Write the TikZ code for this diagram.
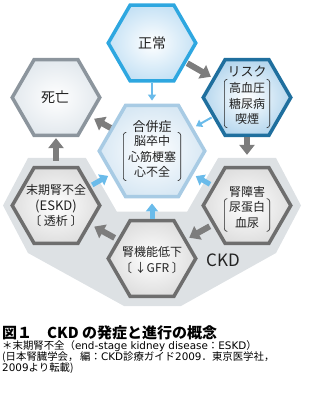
\documentclass[tikz,border=0pt]{standalone}
\usepackage{fontspec}
\setmainfont{Noto Sans CJK JP}
\newfontfamily\latinfont{DejaVu Sans}
\usetikzlibrary{shapes.geometric,arrows.meta}

\definecolor{hexblue}{HTML}{2EA7E0}
\definecolor{normalfill}{HTML}{C6E2F5}
\definecolor{riskblue}{HTML}{1F6F9E}
\definecolor{riskfill}{HTML}{B6D7EE}
\definecolor{compblue}{HTML}{A8CBE4}
\definecolor{compfill}{HTML}{D8E8F4}
\definecolor{deathgray}{HTML}{8C959D}
\definecolor{deathfill}{HTML}{E3E9EE}
\definecolor{ckdgray}{HTML}{6E6E6E}
\definecolor{ckdfill}{HTML}{DFDFDF}
\definecolor{bggray}{HTML}{DDE1E4}
\definecolor{arrgray}{HTML}{7D7D7D}
\definecolor{arrblue}{HTML}{6ABBEA}
\definecolor{txtdark}{HTML}{222222}

\begin{document}
\begin{tikzpicture}[
    x=1pt, y=-1pt,
    hexbase/.style={
        regular polygon,
        regular polygon sides=6,
        inner sep=0pt,
        line width=3.5pt,
        minimum size=87.5pt
    },
    hexnormal/.style={hexbase, draw=hexblue, inner color=white, outer color=normalfill},
    hexrisk/.style={hexbase, draw=riskblue, inner color=white, outer color=riskfill},
    hexcomp/.style={hexbase, draw=compblue, inner color=white, outer color=compfill, minimum size=105.5pt},
    hexdeath/.style={hexbase, draw=deathgray, inner color=white, outer color=deathfill},
    hexckd/.style={hexbase, draw=ckdgray, inner color=white, outer color=ckdfill},
    hextxt/.style={align=center, text=txtdark, inner sep=0pt, font=\fontsize{12}{15.5}\selectfont},
    hexhead/.style={hextxt, font=\fontsize{13}{15}\selectfont},
    hexlist/.style={hextxt, inner xsep=4.5pt, inner ysep=3pt},
    brk/.style={draw=txtdark, line width=0.6pt, rounded corners=3pt},
    grayarr/.style={draw=arrgray, line width=6pt, -{Triangle[width=15pt,length=10pt]}},
    bluearr/.style={draw=arrblue, line width=5pt, -{Triangle[width=12pt,length=8pt]}},
    thinarr/.style={draw=arrblue, line width=2pt, -{Triangle[width=8pt,length=6pt]}}
]
\useasboundingbox (0,0) rectangle (314,403);

% CKD background
\fill[bggray] (28,158) -- (3,205.5) -- (28,253) -- (124,306) -- (181,306)
    -- (276,253) -- (301,205.5) -- (276,158) -- cycle;
\node[regular polygon, regular polygon sides=6, minimum size=140pt, inner sep=0pt, fill=white] (bay) at (152,151) {};

% Hexagons
\node[hexnormal] (normal) at (152,43) {};
\node[hexrisk] (risk) at (247,97.5) {};
\node[hexdeath] (death) at (56,97.5) {};
\node[hexcomp] (comp) at (152,151) {};
\node[hexckd] (eskd) at (56,205.5) {};
\node[hexckd] (damage) at (247,205.5) {};
\node[hexckd] (gfr) at (152,258.5) {};

% Arrows
\draw[grayarr, shorten <=1pt, shorten >=2pt] (normal) -- (risk);
\draw[thinarr, shorten >=3pt] (normal) -- (comp);
\draw[thinarr, shorten <=1pt, shorten >=3pt] (risk) -- (comp);
\draw[grayarr, shorten >=11pt] (risk) -- (damage);
\draw[grayarr, shorten >=4pt] (comp) -- (death);
\draw[grayarr, shorten <=5pt, shorten >=1pt] (eskd) -- (death);
\draw[bluearr, shorten <=2pt, shorten >=3pt] (eskd) -- (comp);
\draw[bluearr, shorten <=3pt, shorten >=3pt] (damage) -- (comp);
\draw[bluearr, shorten >=5pt] (gfr) -- (comp);
\draw[grayarr, shorten <=3pt, shorten >=4pt] (gfr) -- (eskd);
\draw[grayarr, shorten <=3pt, shorten >=3pt] (damage) -- (gfr);

% Texts
\node[hextxt, font=\fontsize{14}{16}\selectfont] (normaltxt) at (152,43) {正常};
\node[hextxt, font=\fontsize{14}{16}\selectfont] (deathtxt) at (55,97.5) {死亡};

\node[hexhead] (riskhead) at (247,72) {リスク};
\node[hexlist] (risklist) at (247,103.5) {高血圧\\糖尿病\\喫煙};

\node[hexhead] (comphead) at (152,127) {合併症};
\node[hexlist] (complist) at (152,156.5) {脳卒中\\心筋梗塞\\心不全};

\node[hexhead, font=\fontsize{12}{15}\selectfont] (damagehead) at (247,192) {腎障害};
\node[hexlist] (damagelist) at (247,215) {尿蛋白\\血尿};

\node[hextxt] (eskdtxt) at (56,206) {末期腎不全\\{\fontsize{13}{15}\selectfont (ESKD)}\\〔 透析 〕};
\node[hextxt] (gfrtxt) at (152,260) {腎機能低下\\〔 ↓GFR 〕};
\node[font=\fontsize{17}{17}\selectfont, text=txtdark] (ckd) at (223,260) {CKD};

% Brackets
\foreach \l in {risklist,complist,damagelist} {
    \draw[brk] ([xshift=3pt]\l.north west) -- (\l.north west) -- (\l.south west) -- ([xshift=3pt]\l.south west);
    \draw[brk] ([xshift=-3pt]\l.north east) -- (\l.north east) -- (\l.south east) -- ([xshift=-3pt]\l.south east);
}

% Caption
\node[anchor=west, font=\bfseries\fontsize{15}{16}\selectfont, inner sep=0pt] (cap) at (2,333) {図１\quad CKD の発症と進行の概念};
\node[anchor=north west, align=left, inner sep=0pt, font=\fontsize{10.4}{11.3}\selectfont] (note) at (2,340)
    {＊末期腎不全（{\latinfont end-stage kidney disease}：{\latinfont ESKD}）\\
     (日本腎臓学会，\,編：{\latinfont CKD}診療ガイド{\latinfont 2009}．東京医学社，\\
     {\latinfont 2009}より転載)};
\end{tikzpicture}
\end{document}
